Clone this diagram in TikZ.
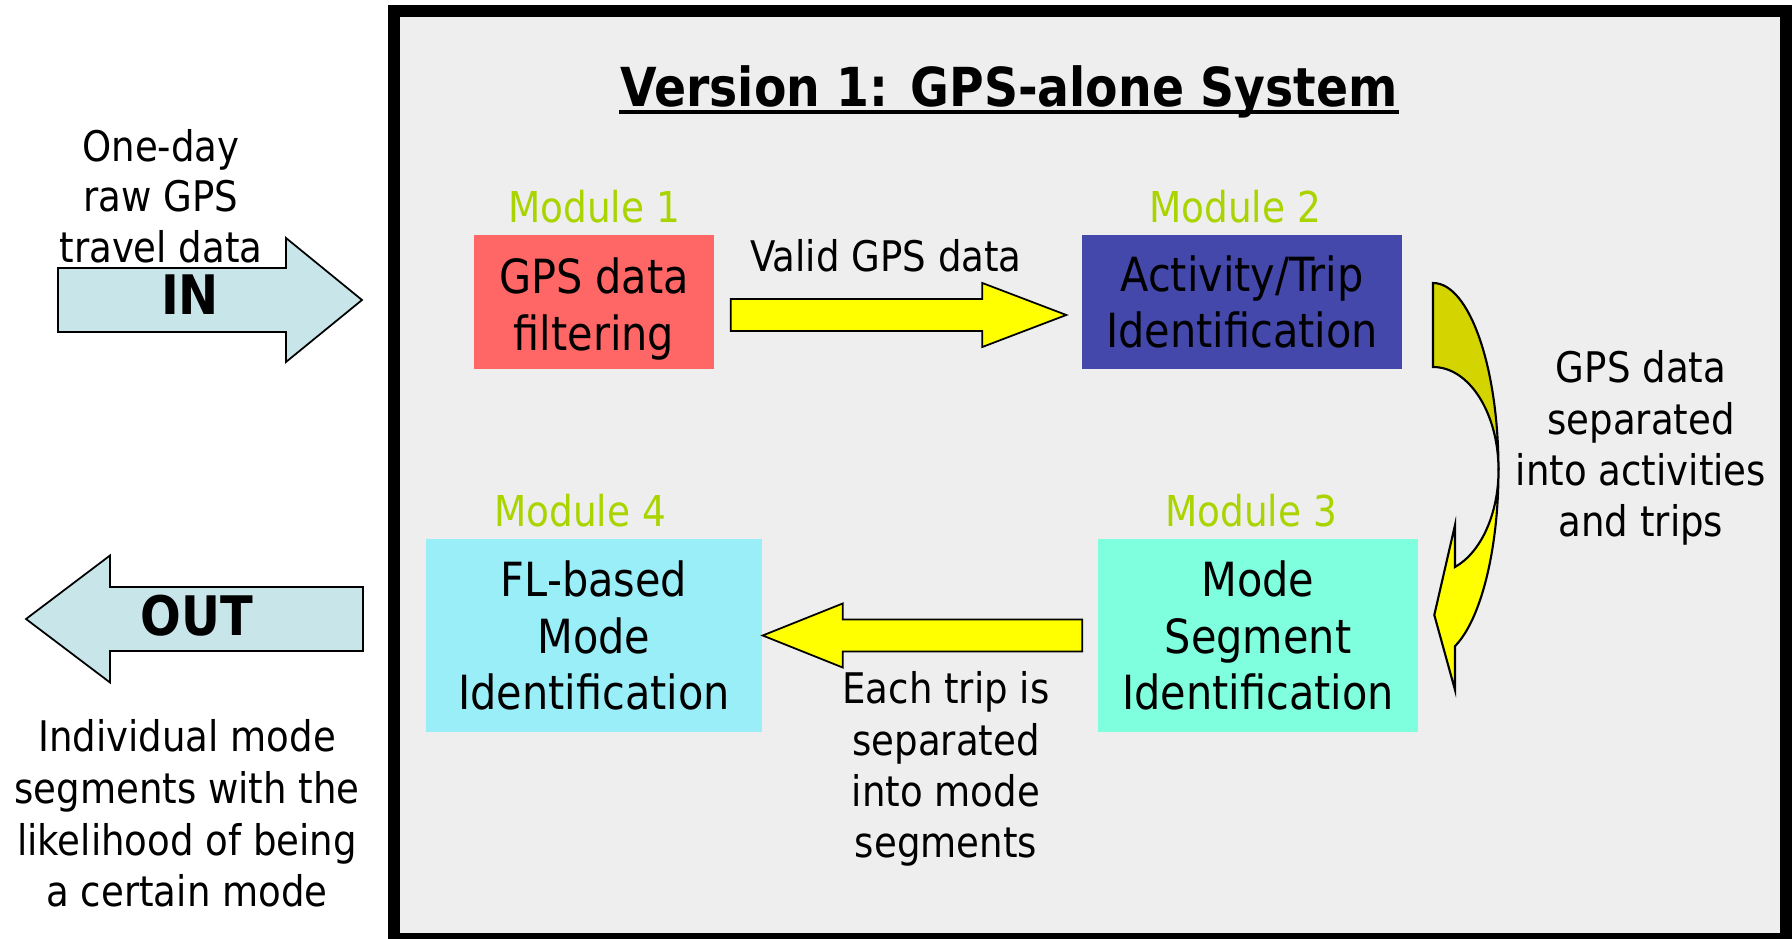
\documentclass[tikz,border=0pt]{standalone}
\usepackage{fontspec}
\setmainfont{DejaVu Sans}[FakeStretch=0.88]
\usetikzlibrary{calc,positioning}
\definecolor{fond}{RGB}{238,238,238}
\definecolor{rouge}{RGB}{255,102,102}
\definecolor{indigo}{RGB}{68,72,170}
\definecolor{turquoise}{RGB}{127,255,222}
\definecolor{ciel}{RGB}{153,238,248}
\definecolor{vertmod}{RGB}{170,212,0}
\definecolor{jaune}{RGB}{255,255,0}
\definecolor{jaunefonce}{RGB}{212,212,0}
\definecolor{bleupale}{RGB}{200,230,234}
\newcommand{\blockarrow}[6]{\draw[#1] ($(#2)+(0,#4)$) -- ($(#3)+({-(#6)},#4)$) -- ($(#3)+({-(#6)},#5)$) -- (#3) -- ($(#3)+({-(#6)},{-(#5)})$) -- ($(#3)+({-(#6)},{-(#4)})$) -- ($(#2)+(0,{-(#4)})$) -- cycle;}

\begin{document}
\begin{tikzpicture}[
    modbox/.style={inner sep=0pt, align=center, font=\fontsize{13.4}{16.1}\selectfont},
    modlabel/.style={inner sep=0pt, text=vertmod, font=\fontsize{12.1}{14}\selectfont},
    txt/.style={inner sep=0pt, align=center, font=\fontsize{12}{14.6}\selectfont},
    fleche/.style={draw=black, line width=0.5pt, fill=jaune},
    flechebleue/.style={draw=black, line width=0.5pt, fill=bleupale}]
            \useasboundingbox (0,0) rectangle (17.92,-9.39);
            \draw[line width=0.12cm, fill=fond] (3.94,-0.11) rectangle (17.86,-9.39);
            \node[inner sep=0pt, anchor=base, font=\bfseries\fontsize{15.3}{18}\selectfont] (titre) at (10.09,-1.07) {Version 1: GPS-alone System};
            \draw[line width=0.9pt] ($(titre.base west)+(0,-0.05)$) -- ($(titre.base east)+(0,-0.05)$);
            \node[modbox, fill=rouge, minimum width=2.40cm, minimum height=1.34cm] (m1) at (5.94,-3.02) {\rule{0pt}{0.5cm}GPS data\\filtering};
            \node[modbox, fill=indigo, minimum width=3.20cm, minimum height=1.34cm] (m2) at (12.42,-3.02) {Activity/Trip\\Identification};
            \node[modbox, fill=turquoise, minimum width=3.20cm, minimum height=1.93cm] (m3) at (12.58,-6.355) {Mode\\Segment\\Identification};
            \node[modbox, fill=ciel, minimum width=3.36cm, minimum height=1.93cm] (m4) at (5.94,-6.355) {FL-based\\Mode\\Identification};
            \node[modlabel, above=0.10cm of m1] (l1) {Module 1};
            \node[modlabel, above=0.10cm of m2, xshift=-0.07cm] (l2) {Module 2};
            \node[modlabel, above=0.10cm of m3, xshift=-0.07cm] (l3) {Module 3};
            \node[modlabel, above=0.10cm of m4, xshift=-0.14cm] (l4) {Module 4};
            \coordinate (a12s) at ($(m1.east)+(0.16,-0.13)$);
            \coordinate (a12e) at ($(m2.west)+(-0.15,-0.13)$);
            \coordinate (a34s) at ($(m3.west)+(-0.15,0)$);
            \coordinate (a34e) at (m4.east);
            \blockarrow{fleche}{a12s}{a12e}{0.16}{0.32}{0.84}
            \blockarrow{fleche}{a34s}{a34e}{0.16}{0.32}{-0.80}
            \coordinate (pivot) at (14.33,-4.70);
            \filldraw[fill=jaunefonce, draw=black, line width=0.6pt] ($(pivot)+(0,1.87)$) arc[start angle=90, end angle=0, x radius=0.655, y radius=1.87] arc[start angle=0, end angle=90, x radius=0.655, y radius=1.03] -- cycle;
            \filldraw[fill=jaune, draw=black, line width=0.6pt] ($(pivot)+(0.655,0)$) arc[start angle=0, end angle=-70.4, x radius=0.655, y radius=1.87] -- ($(pivot)+(0.22,-2.20)$) -- ($(pivot)+(0.013,-1.45)$) -- ($(pivot)+(0.22,-0.55)$) -- ($(pivot)+(0.22,-0.97)$) arc[start angle=-70.4, end angle=0, x radius=0.655, y radius=1.03] -- cycle;
            \node[txt, anchor=base] (valid) at (8.86,-2.72) {Valid GPS data};
            \node[txt, anchor=north] (sep) at (16.41,-3.50) {GPS data\\separated\\into activities\\and trips};
            \node[txt, anchor=north] (trip) at (9.46,-6.71) {Each trip is\\separated\\into mode\\segments};
            \coordinate (in0) at (0.58,-3.00);
            \coordinate (in1) at (3.62,-3.00);
            \coordinate (out0) at (3.63,-6.19);
            \coordinate (out1) at (0.26,-6.19);
            \blockarrow{flechebleue}{in0}{in1}{0.32}{0.62}{0.76}
            \blockarrow{flechebleue}{out0}{out1}{0.32}{0.635}{-0.84}
            \node[inner sep=0pt, anchor=base, font=\bfseries\fontsize{15.5}{18}\selectfont] (in) at (1.90,-3.15) {IN};
            \node[inner sep=0pt, anchor=base, font=\bfseries\fontsize{15.5}{18}\selectfont] (out) at (1.97,-6.36) {OUT};
            \node[txt, anchor=north, font=\fontsize{12}{14.3}\selectfont] (raw) at (1.61,-1.29) {One-day\\raw GPS\\travel data};
            \node[txt, anchor=north, font=\fontsize{12}{14.7}\selectfont] (res) at (1.87,-7.19) {Individual mode\\segments with the\\likelihood of being\\a certain mode};
        \end{tikzpicture}
\end{document}
